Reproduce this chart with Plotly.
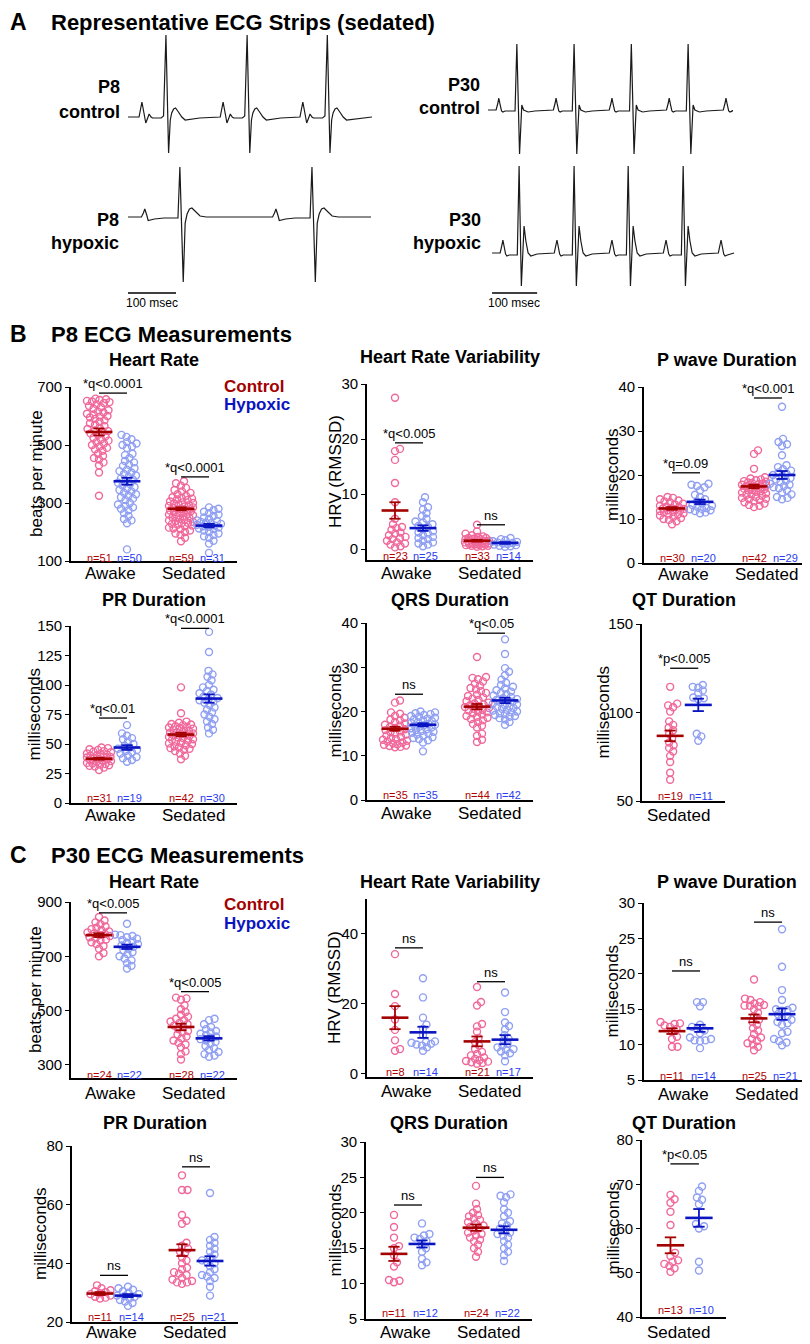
import plotly.graph_objects as go

# the page body adds an 8 px margin, so the figure is laid out in reference
# pixel coordinates and shifted back by that offset
OFF = 8
FW, FH = 810 - OFF, 1344 - OFF
FONT = "Liberation Sans, Arial, sans-serif"
C_PT, H_PT = "#f0679a", "#8f9ff2"
C_MEAN, H_MEAN = "#a30000", "#0a14c0"
C_TXT, H_TXT = "#b00000", "#2a3cf0"

# ---------------- P8 data ----------------
p8_hr_c_awake = [660, 658, 655, 652, 650, 648, 645, 640, 635, 630,
                 625, 620, 615, 612, 608, 605, 600, 598, 595, 590,
                 585, 580, 575, 570, 565, 560, 555, 550, 548, 545,
                 540, 535, 530, 525, 520, 515, 510, 505, 500, 495,
                 490, 485, 480, 470, 462, 455, 450, 440, 430, 405, 325]
p8_hr_h_awake = [535, 528, 520, 510, 505, 500, 495, 490, 470, 465,
                 455, 445, 440, 432, 428, 420, 415, 410, 405, 400,
                 395, 390, 385, 380, 375, 370, 365, 360, 355, 350,
                 345, 340, 335, 330, 325, 320, 315, 310, 300, 295,
                 290, 285, 280, 275, 265, 255, 245, 240, 230, 140]
p8_hr_c_sed = [375, 368, 360, 352, 345, 340, 335, 330, 325, 320,
               318, 315, 312, 310, 305, 302, 300, 298, 295, 292,
               290, 288, 285, 283, 280, 278, 276, 274, 272, 270,
               268, 265, 262, 260, 258, 255, 252, 250, 248, 245,
               242, 240, 238, 235, 232, 230, 228, 225, 222, 220,
               215, 212, 210, 205, 200, 195, 190, 180, 168]
p8_hr_h_sed = [285, 280, 275, 270, 265, 260, 255, 250, 245, 240,
               238, 235, 232, 230, 228, 225, 222, 220, 218, 215,
               212, 210, 205, 200, 195, 190, 185, 180, 170, 160, 128]
p8_hr_mean = [545, 375, 280, 222]
p8_hr_sem = [12, 12, 5, 6]

p8_hrv_c_awake = [27.5, 18.2, 17.8, 16.2, 12, 8.5, 5.5, 4.5, 4, 3.8, 3.5, 3,
                  2.8, 2.5, 2.2, 2, 1.8, 1.5, 1.2, 1, 0.8, 0.5, 0.3]
p8_hrv_h_awake = [9.4, 8.5, 7.6, 7.2, 6.5, 6, 5.5, 5, 4.8, 4.5, 4.2, 4, 3.6,
                  3.2, 3, 2.8, 2.5, 2.2, 2, 1.8, 1.5, 1.2, 1, 0.8, 0.5]
p8_hrv_c_sed = [4.4, 3.2, 2.8, 2.5, 2.3, 2.2, 2, 2, 1.9, 1.8, 1.8, 1.7, 1.6,
                1.5, 1.5, 1.4, 1.3, 1.3, 1.2, 1.2, 1.1, 1, 1, 0.9, 0.9, 0.8,
                0.8, 0.7, 0.7, 0.6, 0.6, 0.5, 0.4]
p8_hrv_h_sed = [2, 1.8, 1.6, 1.4, 1.3, 1.2, 1.1, 1, 0.9, 0.8, 0.7, 0.6, 0.5, 0.4]
p8_hrv_mean = [7.0, 3.8, 1.5, 1.1]
p8_hrv_sem = [1.5, 0.5, 0.15, 0.15]

p8_pw_c_awake = [15, 14.8, 14.5, 14.2, 14, 13.8, 13.5, 13.3, 13, 12.8,
                 12.7, 12.5, 12.4, 12.3, 12.2, 12, 11.9, 11.8, 11.6, 11.5,
                 11.3, 11.1, 11, 10.8, 10.5, 10.2, 10, 9.8, 9.5, 8.8]
p8_pw_h_awake = [18, 17.8, 17.5, 17.2, 16.5, 15.5, 15, 14.5, 14, 13.5,
                 13.2, 13, 12.8, 12.5, 12.3, 12.2, 12, 11.8, 11.5, 11.3]
p8_pw_c_sed = [25.6, 24.8, 21.4, 19.5, 19.2, 19, 18.8, 18.6, 18.5, 18.3,
               18.2, 18, 17.9, 17.8, 17.6, 17.5, 17.4, 17.3, 17.2, 17,
               16.9, 16.8, 16.6, 16.5, 16.3, 16.2, 16, 15.8, 15.6, 15.5,
               15.3, 15, 14.8, 14.6, 14.5, 14.3, 14, 13.8, 13.5, 13.2, 13, 12.7]
p8_pw_h_sed = [35.5, 28.2, 27.5, 27, 26.6, 24.5, 22.2, 21.8, 21.3, 21,
               20.6, 20.3, 20, 19.7, 19.3, 19, 18.7, 18.4, 18, 17.8,
               17.5, 17.2, 17, 16.5, 16, 15.6, 15, 14.8, 14.5]
p8_pw_mean = [12.4, 13.9, 17.4, 20.0]
p8_pw_sem = [0.3, 0.5, 0.4, 0.9]

p8_pr_c_awake = [47, 46.5, 45.5, 45, 44, 43.5, 43, 42, 41.5, 41, 40.5, 40, 39.5,
                 39, 38.5, 38, 37.5, 37, 36.5, 36, 35.5, 35, 34, 33.5, 33, 32.5,
                 32, 31.5, 31, 30, 28]
p8_pr_h_awake = [66, 59, 57, 55, 54, 52, 50, 48.5, 47, 46, 45, 44, 43, 42, 40,
                 39, 38, 36.5, 35]
p8_pr_c_sed = [98, 76, 69, 68, 67, 66.5, 66, 65, 64.5, 64, 63.5, 63, 62, 61.5,
               61, 60, 59.5, 59, 58.5, 58, 57.5, 57, 56, 55.5, 55, 54, 53.5, 53,
               52, 51, 50.5, 50, 49, 48, 47, 46.5, 46, 45, 44, 42, 40, 37]
p8_pr_h_sed = [145, 128, 112, 109, 107, 104, 100, 98, 96, 95, 93, 92, 90, 89,
               88, 87, 86, 85, 83, 81, 79, 77, 75, 73, 71, 69, 67, 64, 62, 59]
p8_pr_mean = [37.5, 47, 58, 88.5]
p8_pr_sem = [0.8, 2, 1.5, 3.5]

p8_qrs_c_awake = [22.5, 22, 19.8, 19.5, 19, 18.6, 18.2, 18, 17.6, 17.3, 17, 16.8,
                  16.5, 16.3, 16, 15.8, 15.5, 15.3, 15, 14.8, 14.6, 14.3, 14,
                  13.8, 13.6, 13.4, 13.2, 13, 12.8, 12.6, 12.5, 12.3, 12.2, 12, 11.9]
p8_qrs_h_awake = [20, 19.8, 19.6, 19.4, 19.2, 19, 18.8, 18.6, 18.4, 18.2, 18,
                  17.8, 17.6, 17.4, 17.2, 17, 16.9, 16.8, 16.6, 16.4, 16.2, 16,
                  15.8, 15.6, 15.4, 15.2, 15, 14.8, 14.5, 14.2, 14, 13.8, 13.5, 13, 11]
p8_qrs_c_sed = [32.3, 27.8, 27.6, 27.3, 26.8, 26.3, 25.8, 25.3, 25, 24.6, 24.2,
                23.8, 23.5, 23.2, 22.9, 22.6, 22.3, 22, 21.8, 21.6, 21.4, 21.2,
                21, 20.8, 20.6, 20.4, 20.2, 20, 19.8, 19.6, 19.3, 19, 18.8, 18.6,
                18.3, 18, 17.6, 17.2, 16.8, 16.4, 15, 14.5, 13.6, 13.1]
p8_qrs_h_sed = [36.3, 33, 29.8, 29, 28.2, 27.2, 26.5, 26, 25.6, 25.2, 24.8, 24.5,
                24.2, 23.9, 23.6, 23.3, 23, 22.8, 22.6, 22.4, 22.2, 22, 21.8,
                21.6, 21.4, 21.2, 21, 20.8, 20.6, 20.4, 20.2, 20, 19.8, 19.6,
                19.4, 19.2, 19, 18.8, 18.5, 18.2, 17.6, 17]
p8_qrs_mean = [16.1, 17.0, 21.1, 22.5]
p8_qrs_sem = [0.45, 0.35, 0.6, 0.6]

p8_qt_c_sed = [114.5, 105, 104, 103, 100.5, 95, 93, 91.5, 90, 88, 85.5, 83,
               81.5, 80, 78, 75.5, 72, 66, 62]
p8_qt_h_sed = [115.5, 114.5, 114, 112.5, 111, 108.5, 108, 107.5, 88, 86.5, 84]
p8_qt_mean = [86.8, 104.3]
p8_qt_sem = [3.0, 3.5]

# ---------------- P30 data ----------------
p30_hr_c_awake = [845, 832, 825, 818, 810, 805, 800, 796, 792, 788, 785, 782,
                  778, 775, 770, 766, 762, 758, 752, 745, 738, 728, 712, 700]
p30_hr_h_awake = [820, 780, 778, 775, 770, 765, 760, 755, 750, 745, 740, 735,
                  728, 722, 715, 708, 700, 692, 685, 675, 665, 655]
p30_hr_c_sed = [548, 545, 540, 520, 505, 495, 485, 478, 470, 465, 460, 455, 450,
                445, 440, 432, 425, 420, 412, 405, 398, 390, 382, 375, 365, 350,
                340, 320]
p30_hr_h_sed = [470, 465, 450, 440, 432, 425, 420, 415, 410, 405, 400, 395, 390,
                385, 378, 370, 362, 355, 348, 340, 335, 330]
p30_hr_mean = [778, 735, 440, 398]
p30_hr_sem = [7, 8, 12, 8]

p30_hrv_c_awake = [34.2, 22.8, 19.3, 15.5, 12.5, 9.5, 7, 6.5]
p30_hrv_h_awake = [27.3, 21.8, 16, 14, 12.8, 11, 9.2, 9, 8.8, 8.5, 8.3, 8, 7.5, 6.5]
p30_hrv_c_sed = [24.8, 20.5, 19.5, 14.2, 13.5, 12, 10.2, 9, 8, 7, 6.2, 5.6, 5.2,
                 4.6, 4.2, 3.8, 3.6, 3.4, 3.2, 3, 2.8]
p30_hrv_h_sed = [23.2, 17.6, 14.6, 13.6, 12.6, 11, 10, 9.5, 8.5, 8, 7.5, 7, 6.8,
                 6.3, 5.8, 5.2, 3.5]
p30_hrv_mean = [16.0, 11.8, 9.2, 9.7]
p30_hrv_sem = [3.3, 1.6, 1.4, 1.3]

p30_pw_c_awake = [13.2, 13, 12.9, 12.7, 12.5, 12.2, 11.8, 11.1, 10.8, 9.7, 9.7]
p30_pw_h_awake = [16, 16, 15.4, 12.8, 12.5, 12.2, 12, 11.6, 11, 10.8, 10.6, 10.6,
                  10.5, 9.5]
p30_pw_c_sed = [19.2, 16.5, 16.3, 16, 15.8, 15.6, 15.5, 15.5, 15.4, 15, 14.5, 14,
                13.5, 13.2, 12.8, 12.3, 12, 11.5, 11, 10.8, 10.5, 10.2, 10, 9.7, 9.2]
p30_pw_h_sed = [26.3, 21, 17.7, 16.3, 15.2, 15, 14.9, 14.8, 14.3, 14, 13.8, 13.5,
                13.2, 13, 12.8, 11.8, 11.6, 10.8, 10.5, 10.3, 9.9]
p30_pw_mean = [11.9, 12.3, 13.7, 14.3]
p30_pw_sem = [0.4, 0.5, 0.55, 0.8]

p30_pr_c_awake = [32.5, 31.5, 30.8, 30.5, 30.2, 29.8, 29.5, 29, 28.6, 28.3, 28]
p30_pr_h_awake = [32, 31.5, 31, 30.5, 30, 29.5, 29, 28.8, 28.5, 28, 27.5, 27,
                  26.5, 25.5]
p30_pr_c_sed = [70, 65, 65, 56.5, 54.5, 53.5, 47, 46, 45, 44, 43.5, 42, 41, 40,
                38.5, 38, 37, 36.5, 36, 35, 34.5, 34, 33.5, 33.5, 33]
p30_pr_h_sed = [64, 49, 48, 47, 46, 45, 44, 43, 42, 41, 40.5, 40, 39, 38, 37, 36,
                35.5, 35, 34, 32, 29]
p30_pr_mean = [29.7, 29.0, 44.5, 40.8]
p30_pr_sem = [0.5, 0.5, 2.0, 1.6]

p30_qrs_c_awake = [19.7, 18, 16.5, 15.3, 15, 14, 13, 12.4, 10.5, 10.4, 10.2]
p30_qrs_h_awake = [18.5, 17, 16.8, 16.5, 16.3, 16, 15.6, 15, 14.5, 13.5, 13, 12.6]
p30_qrs_c_sed = [23.8, 21.3, 20.5, 20, 19.7, 19.5, 19.2, 19, 18.7, 18.5, 18.2,
                 18, 17.8, 17.5, 17.2, 17, 16.8, 16.5, 16.2, 16, 15.5, 15, 14.5, 13.8]
p30_qrs_h_sed = [22.6, 22.4, 22.2, 21.5, 20.5, 20, 19.5, 18.8, 18.5, 18.2, 17.8,
                 17.5, 17.2, 17, 16.8, 16.5, 16, 15.5, 15, 14.5, 14, 13.2]
p30_qrs_mean = [14.2, 15.6, 17.9, 17.6]
p30_qrs_sem = [1.0, 0.5, 0.45, 0.5]

p30_qt_c_sed = [67.6, 66.6, 65.8, 63.8, 60.8, 54.5, 53.8, 52.8, 52.5, 52, 51.5,
                51, 50.2]
p30_qt_h_sed = [69.5, 68.5, 67, 66.5, 65.5, 61, 60.5, 60, 52.5, 50.5]
p30_qt_mean = [56.2, 62.4]
p30_qt_sem = [1.8, 2.0]

# ---------------- ECG strips (time ms, amplitude a.u.) ----------------
# knots relative to the P peak / R peak of each beat
p8c_p_knots = [(-6, 0), (0, 15), (5, 2), (8, -6), (12, -1), (15, 3), (19, 0), (22, -1)]
p8c_qrs_knots = [(-10, -1), (-5, 1), (0, 82), (5.5, -36), (9, -3), (12, 4), (16, 8),
                 (20, 9), (26, 5), (33, 0), (40, -3), (55, -2), (70, -1)]
p8c_p_times = [29, 198, 364]
p8c_r_times = [79, 248, 415]

p8h_p_knots = [(-7, 0), (-3, 4), (0, 8), (4, 2), (7, -3.5), (20, -2), (40, -1)]
p8h_qrs_knots = [(-4, -1), (0, 50), (7, -65), (11, -6), (15, 3), (20, 8), (25, 9),
                 (32, 6), (42, 1), (55, 0)]
p8h_p_times = [35, 308]
p8h_r_times = [108, 383]

p30c_p_knots = [(-6, 0), (-2, 7), (0, 12), (3, 5), (6, -1), (9, -2), (14, -1)]
p30c_qrs_knots = [(-4, -1), (0, 66), (6, -44), (9, -4), (11, 5), (15, 0), (25, -2),
                  (40, -1)]
p30c_p_times = [24, 151, 275, 402, 528]
p30c_r_times = [64, 191, 318, 444]

p30h_p_knots = [(-6, 0), (-2, 8), (0, 13), (3, 6), (6, -1), (9, -3), (14, -2)]
p30h_qrs_knots = [(-4, -2), (0, 87), (5, -33), (8, -5), (11, 27), (15, 12), (20, 0),
                  (26, -3), (40, -1)]
p30h_p_times = [33, 153, 275, 395, 517]
p30h_r_times = [69, 191, 311, 433]

group_labels = ["Awake", "Sedated"]


def px(xv):
    return (xv - OFF) / FW


def py(yv):
    return 1 - (yv - OFF) / FH


def swarm(vals, px_per_unit, d=5.2, step=0.5, unit_px=28.0, cap=12.0):
    # beeswarm offsets (in x units) so the open circles do not pile up
    placed = []
    out = [0.0] * len(vals)
    order = sorted(range(len(vals)), key=lambda i: vals[i])
    cands = [0.0]
    k = 1
    while k * step <= cap:
        cands += [k * step, -k * step]
        k += 1
    for i in order:
        yy = vals[i] * px_per_unit
        best, best_gap = None, -1
        for s in cands:
            gap = min([((s - a) ** 2 + (yy - b) ** 2) ** 0.5 for a, b in placed] or [99])
            if gap >= d:
                best = s
                break
            if gap > best_gap:
                best, best_gap = s, gap
        placed.append((best, yy))
        out[i] = best / unit_px
    return out


POS4 = [1, 2, 3.93, 4.93]
POS2 = [1, 2]

panels = [
    dict(title="Heart Rate", ylab="beats per minute", xpx=(71, 237), ypx=(387, 561),
         yr=[100, 700], yt=[100, 300, 500, 700], ty=360, lx=36, ny=558, ly=574,
         data=[p8_hr_c_awake, p8_hr_h_awake, p8_hr_c_sed, p8_hr_h_sed],
         mean=p8_hr_mean, sem=p8_hr_sem,
         sig=[(0, 1, 679, "*q<0.0001"), (2, 3, 390, "*q<0.0001")]),
    dict(title="Heart Rate Variability", ylab="HRV (RMSSD)", xpx=(367, 533), ypx=(384, 560),
         yr=[-2, 30], yt=[0, 10, 20, 30], ty=357, lx=335, ny=556, ly=574,
         data=[p8_hrv_c_awake, p8_hrv_h_awake, p8_hrv_c_sed, p8_hrv_h_sed],
         mean=p8_hrv_mean, sem=p8_hrv_sem,
         sig=[(0, 1, 19.3, "*q<0.005"), (2, 3, 4.4, "ns")]),
    dict(title="P wave Duration", ylab="milliseconds", xpx=(644, 810), ypx=(387, 563),
         yr=[0, 40], yt=[0, 10, 20, 30, 40], ty=360, lx=612, ny=558, ly=575,
         data=[p8_pw_c_awake, p8_pw_h_awake, p8_pw_c_sed, p8_pw_h_sed],
         mean=p8_pw_mean, sem=p8_pw_sem,
         sig=[(0, 1, 20.5, "*q=0.09"), (2, 3, 37.5, "*q<0.001")]),
    dict(title="PR Duration", ylab="milliseconds", xpx=(71, 237), ypx=(626, 803),
         yr=[0, 150], yt=[0, 25, 50, 75, 100, 125, 150], ty=600, lx=34, ny=798, ly=815,
         data=[p8_pr_c_awake, p8_pr_h_awake, p8_pr_c_sed, p8_pr_h_sed],
         mean=p8_pr_mean, sem=p8_pr_sem,
         sig=[(0, 1, 72, "*q<0.01"), (2, 3, 148, "*q<0.0001")]),
    dict(title="QRS Duration", ylab="milliseconds", xpx=(367, 533), ypx=(623, 800),
         yr=[0, 40], yt=[0, 10, 20, 30, 40], ty=600, lx=335, ny=795, ly=813,
         data=[p8_qrs_c_awake, p8_qrs_h_awake, p8_qrs_c_sed, p8_qrs_h_sed],
         mean=p8_qrs_mean, sem=p8_qrs_sem,
         sig=[(0, 1, 23.9, "ns"), (2, 3, 37.7, "*q<0.05")]),
    dict(title="QT Duration", ylab="milliseconds", xpx=(642, 725), ypx=(624, 801),
         yr=[50, 150], yt=[50, 100, 150], ty=600, lx=603, ny=796, ly=815,
         data=[p8_qt_c_sed, p8_qt_h_sed], mean=p8_qt_mean, sem=p8_qt_sem,
         sig=[(0, 1, 125, "*p<0.005")]),
    dict(title="Heart Rate", ylab="beats per minute", xpx=(71, 237), ypx=(902, 1078),
         yr=[252, 900], yt=[300, 500, 700, 900], ty=882, lx=35, ny=1075, ly=1093,
         data=[p30_hr_c_awake, p30_hr_h_awake, p30_hr_c_sed, p30_hr_h_sed],
         mean=p30_hr_mean, sem=p30_hr_sem,
         sig=[(0, 1, 860, "*q<0.005"), (2, 3, 570, "*q<0.005")]),
    dict(title="Heart Rate Variability", ylab="HRV (RMSSD)", xpx=(367, 533), ypx=(899, 1077),
         yr=[-1, 50], yt=[0, 20, 40], ty=882, lx=335, ny=1072, ly=1091,
         data=[p30_hrv_c_awake, p30_hrv_h_awake, p30_hrv_c_sed, p30_hrv_h_sed],
         mean=p30_hrv_mean, sem=p30_hrv_sem,
         sig=[(0, 1, 36, "ns"), (2, 3, 26.3, "ns")]),
    dict(title="P wave Duration", ylab="milliseconds", xpx=(644, 810), ypx=(903, 1080),
         yr=[5, 30], yt=[5, 10, 15, 20, 25, 30], ty=882, lx=612, ny=1076, ly=1094,
         data=[p30_pw_c_awake, p30_pw_h_awake, p30_pw_c_sed, p30_pw_h_sed],
         mean=p30_pw_mean, sem=p30_pw_sem,
         sig=[(0, 1, 20.4, "ns"), (2, 3, 27.3, "ns")]),
    dict(title="PR Duration", ylab="milliseconds", xpx=(72, 238), ypx=(1146, 1322),
         yr=[20, 80], yt=[20, 40, 60, 80], ty=1123, lx=40, ny=1317, ly=1332,
         data=[p30_pr_c_awake, p30_pr_h_awake, p30_pr_c_sed, p30_pr_h_sed],
         mean=p30_pr_mean, sem=p30_pr_sem,
         sig=[(0, 1, 35.9, "ns"), (2, 3, 72.9, "ns")]),
    dict(title="QRS Duration", ylab="milliseconds", xpx=(366, 532), ypx=(1142, 1319),
         yr=[5, 30], yt=[5, 10, 15, 20, 25, 30], ty=1123, lx=335, ny=1313, ly=1332,
         data=[p30_qrs_c_awake, p30_qrs_h_awake, p30_qrs_c_sed, p30_qrs_h_sed],
         mean=p30_qrs_mean, sem=p30_qrs_sem,
         sig=[(0, 1, 21.1, "ns"), (2, 3, 25, "ns")]),
    dict(title="QT Duration", ylab="milliseconds", xpx=(642, 726), ypx=(1140, 1317),
         yr=[40, 80], yt=[40, 50, 60, 70, 80], ty=1123, lx=613, ny=1310, ly=1332,
         data=[p30_qt_c_sed, p30_qt_h_sed], mean=p30_qt_mean, sem=p30_qt_sem,
         sig=[(0, 1, 74.6, "*p<0.05")]),
]

fig = go.Figure()
layout = {}
annotations = []
shapes = []


def txt(x, y, s, size, color="black", bold=False, xanchor="center", yanchor="middle", angle=0):
    annotations.append(dict(
        x=px(x), y=py(y), xref="paper", yref="paper", text=("<b>%s</b>" % s) if bold else s,
        showarrow=False, xanchor=xanchor, yanchor=yanchor, textangle=angle,
        font=dict(family=FONT, size=size, color=color)))


for i, p in enumerate(panels, start=1):
    sfx = "" if i == 1 else str(i)
    xr, yr_ = "x" + sfx, "y" + sfx
    four = len(p["data"]) == 4
    pos = POS4 if four else POS2
    xmax = 5.93 if four else 2.95
    y0, y1 = p["ypx"]
    ppu = (y1 - y0) / (p["yr"][1] - p["yr"][0])
    layout["xaxis" + sfx] = dict(
        domain=[px(p["xpx"][0]), px(p["xpx"][1])], range=[0, xmax], anchor=yr_,
        showline=True, linewidth=1.6, linecolor="black", ticks="", showgrid=False,
        zeroline=False, showticklabels=False)
    layout["yaxis" + sfx] = dict(
        domain=[py(y1), py(y0)], range=p["yr"], anchor=xr,
        showline=True, linewidth=1.6, linecolor="black", ticks="outside", ticklen=4,
        tickwidth=1.4, tickcolor="black", showgrid=False, zeroline=False,
        tickvals=p["yt"], tickfont=dict(family=FONT, size=15, color="black"))

    # category labels under the x axis
    cat_pos = [1.42, 4.37] if four else [1.32]
    cat_txt = group_labels if four else ["Sedated"]
    for cp, ct in zip(cat_pos, cat_txt):
        txt(p["xpx"][0] + cp * 28, p["ly"], ct, 17)

    for g, vals in enumerate(p["data"]):
        ctrl = g % 2 == 0
        offs = swarm(vals, ppu)
        fig.add_trace(go.Scatter(
            x=[pos[g] + o for o in offs], y=vals, mode="markers", xaxis=xr, yaxis=yr_,
            marker=dict(symbol="circle-open", size=7, color=C_PT if ctrl else H_PT,
                        line=dict(width=1.4)),
            showlegend=False, hoverinfo="skip", cliponaxis=False))
    for g in range(len(p["data"])):
        ctrl = g % 2 == 0
        m, s, c = p["mean"][g], p["sem"][g], pos[g]
        col = C_MEAN if ctrl else H_MEAN
        fig.add_trace(go.Scatter(
            x=[c, c, None, c - 0.2, c + 0.2, None, c - 0.2, c + 0.2],
            y=[m - s, m + s, None, m + s, m + s, None, m - s, m - s],
            mode="lines", line=dict(color=col, width=1.8), xaxis=xr, yaxis=yr_,
            showlegend=False, hoverinfo="skip", cliponaxis=False))
        fig.add_trace(go.Scatter(
            x=[c - 0.48, c + 0.48], y=[m, m], mode="lines",
            line=dict(color=col, width=2.6), xaxis=xr, yaxis=yr_,
            showlegend=False, hoverinfo="skip", cliponaxis=False))
        txt(p["xpx"][0] + pos[g] * 28 + (0 if ctrl else 3), p["ny"],
            "n=%d" % len(p["data"][g]), 11, C_TXT if ctrl else H_TXT)

    for a, b, yv, label in p["sig"]:
        shapes.append(dict(type="line", xref=xr, yref=yr_, x0=pos[a], x1=pos[b],
                           y0=yv, y1=yv, line=dict(color="black", width=1.3)))
        annotations.append(dict(
            x=(pos[a] + pos[b]) / 2, y=yv, xref=xr, yref=yr_, text=label,
            showarrow=False, yanchor="bottom", yshift=0,
            font=dict(family=FONT, size=13, color="black")))

    txt((p["xpx"][0] + p["xpx"][1]) / 2, p["ty"], p["title"], 18, bold=True)
    txt(p["lx"], (y0 + y1) / 2, p["ylab"], 17, angle=-90)


# ---- ECG strips ----
def strip(p_knots, qrs_knots, p_times, r_times, t0, t1):
    pts = [(t0, 0.0), (t1, 0.0)]
    for tp in p_times:
        pts += [(tp + dt, a) for dt, a in p_knots]
    for tr in r_times:
        pts += [(tr + dt, a) for dt, a in qrs_knots]
    pts = sorted(q for q in pts if t0 <= q[0] <= t1)
    return [q[0] for q in pts], [q[1] for q in pts]


strips = [
    (p8c_p_knots, p8c_qrs_knots, p8c_p_times, p8c_r_times, 0, 508, (128, 372), (30, 158), 117, 508),
    (p8h_p_knots, p8h_qrs_knots, p8h_p_times, p8h_r_times, 0, 506, (128, 372), (160, 290), 217, 508),
    (p30c_p_knots, p30c_qrs_knots, p30c_p_times, p30c_r_times, 0, 542, (488, 735), (40, 160), 110, 548),
    (p30h_p_knots, p30h_qrs_knots, p30h_p_times, p30h_r_times, 9, 546, (488, 735), (160, 292), 253, 548),
]
for j, (pk, qk, pt, rt, t0, t1, xp, ypx_, base, tmax) in enumerate(strips, start=13):
    sfx = str(j)
    xs, ys = strip(pk, qk, pt, rt, t0, t1)
    layout["xaxis" + sfx] = dict(domain=[px(xp[0]), px(xp[1])], range=[0, tmax],
                                 visible=False, anchor="y" + sfx)
    layout["yaxis" + sfx] = dict(domain=[py(ypx_[1]), py(ypx_[0])],
                                 range=[-(ypx_[1] - base), base - ypx_[0]],
                                 visible=False, anchor="x" + sfx)
    fig.add_trace(go.Scatter(x=xs, y=ys, mode="lines", xaxis="x" + sfx, yaxis="y" + sfx,
                             line=dict(color="#1a1a1a", width=1.2),
                             showlegend=False, hoverinfo="skip", cliponaxis=False))

# scale bars: 100 ms
shapes.append(dict(type="line", xref="x14", yref="paper", x0=0, x1=100,
                   y0=py(293), y1=py(293), line=dict(color="black", width=1.3)))
shapes.append(dict(type="line", xref="x16", yref="paper", x0=9, x1=109,
                   y0=py(293), y1=py(293), line=dict(color="black", width=1.3)))
txt(152, 303, "100 msec", 12)
txt(514, 303, "100 msec", 12)

# strip labels
txt(122, 87, "P8", 18, bold=True, xanchor="right")
txt(122, 112, "control", 18, bold=True, xanchor="right")
txt(121, 220, "P8", 18, bold=True, xanchor="right")
txt(121, 243, "hypoxic", 18, bold=True, xanchor="right")
txt(482, 85, "P30", 18, bold=True, xanchor="right")
txt(482, 108, "control", 18, bold=True, xanchor="right")
txt(483, 220, "P30", 18, bold=True, xanchor="right")
txt(483, 243, "hypoxic", 18, bold=True, xanchor="right")

# panel headings
txt(8, 22, "A", 23, bold=True, xanchor="left")
txt(49, 22, "Representative ECG Strips (sedated)", 22, bold=True, xanchor="left")
txt(8, 334, "B", 23, bold=True, xanchor="left")
txt(49, 334, "P8 ECG Measurements", 22, bold=True, xanchor="left")
txt(8, 855, "C", 23, bold=True, xanchor="left")
txt(49, 855, "P30 ECG Measurements", 22, bold=True, xanchor="left")

# legend text
txt(222, 387, "Control", 17, C_MEAN, bold=True, xanchor="left")
txt(222, 405, "Hypoxic", 17, H_MEAN, bold=True, xanchor="left")
txt(222, 904, "Control", 17, C_MEAN, bold=True, xanchor="left")
txt(222, 923, "Hypoxic", 17, H_MEAN, bold=True, xanchor="left")

fig.update_layout(
    width=FW, height=FH, margin=dict(l=0, r=0, t=0, b=0, pad=0, autoexpand=False),
    paper_bgcolor="white", plot_bgcolor="white", showlegend=False,
    annotations=annotations, shapes=shapes, **layout)

fig.write_html("out.html")
